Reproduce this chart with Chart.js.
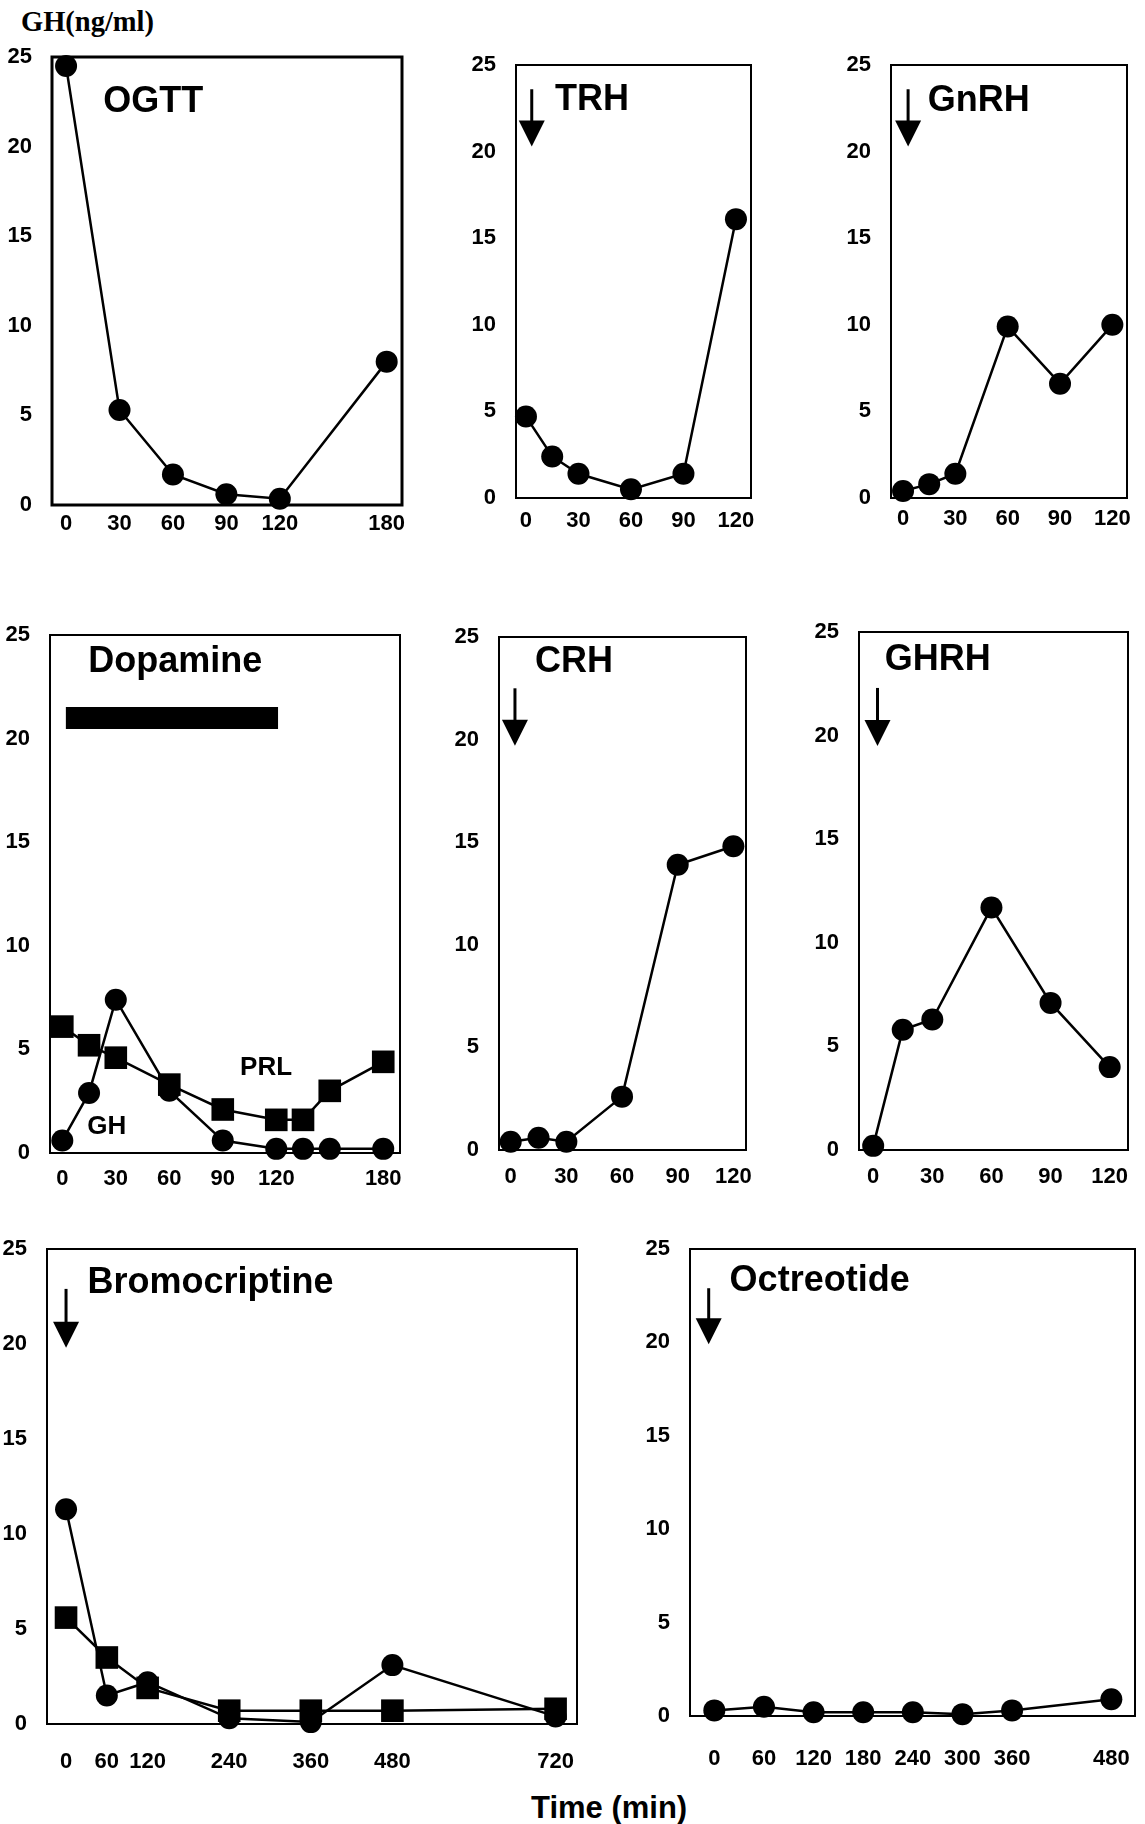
<!DOCTYPE html>
<html>
<head>
<meta charset="utf-8">
<script src="https://cdn.jsdelivr.net/npm/chart.js@4.4.0/dist/chart.umd.min.js"></script>
<style>
  body { margin: 0; background: #fff; width: 1145px; height: 1824px; position: relative; overflow: hidden; }
  canvas { position: absolute; }
  .txt { position: absolute; white-space: nowrap; color: #000; line-height: 1; }
</style>
</head>
<body>
<div class="txt" style="left:21px;top:6px;font:bold 28.5px 'Liberation Serif',serif;">GH(ng/ml)</div>
<div class="txt" style="left:531px;top:1790px;font:bold 31px 'Liberation Sans',Arial,sans-serif;">Time (min)</div>
<script>
// values, GH in ng/ml, time in min
const ogttTime = [0, 30, 60, 90, 120, 180];
const ogttGH = [24.5, 5.3, 1.7, 0.6, 0.35, 8.0];

const trhTime = [0, 15, 30, 60, 90, 120];
const trhGH = [4.7, 2.4, 1.4, 0.5, 1.4, 16.1];

const gnrhTime = [0, 15, 30, 60, 90, 120];
const gnrhGH = [0.4, 0.8, 1.4, 9.9, 6.6, 10.0];

const dopaTime = [0, 15, 30, 60, 90, 120, 135, 150, 180];
const dopaGH = [0.6, 2.9, 7.4, 3.0, 0.6, 0.2, 0.2, 0.2, 0.2];
const dopaPRL = [6.1, 5.2, 4.6, 3.3, 2.1, 1.6, 1.6, 3.0, 4.4];
const dopaInfusion = [2, 121];
const dopaInfusionLevel = 21;

const crhTime = [0, 15, 30, 60, 90, 120];
const crhGH = [0.4, 0.6, 0.4, 2.6, 13.9, 14.8];

const ghrhTime = [0, 15, 30, 60, 90, 120];
const ghrhGH = [0.2, 5.8, 6.3, 11.7, 7.1, 4.0];

const bromoTime = [0, 60, 120, 240, 360, 480, 720];
const bromoGH = [11.3, 1.5, 2.2, 0.3, 0.1, 3.1, 0.4];
const bromoPRL = [5.6, 3.5, 1.9, 0.7, 0.7, 0.7, 0.8];

const octTime = [0, 60, 120, 180, 240, 300, 360, 480];
const octGH = [0.3, 0.5, 0.2, 0.2, 0.2, 0.1, 0.3, 0.9];

const yTicks = [0, 5, 10, 15, 20, 25];
const ticks180 = [0, 30, 60, 90, 120, 180];
const ticks120 = [0, 30, 60, 90, 120];
const bromoTicks = [0, 60, 120, 240, 360, 480, 720];
const octTicks = [0, 60, 120, 180, 240, 300, 360, 480];

const SANS = "'Liberation Sans', Arial, sans-serif";
const TITLE_FONT = "bold 36px " + SANS;
const SMALL_FONT = "bold 26px " + SANS;

const pts = (xs, ys) => xs.map((t, i) => ({ x: t, y: ys[i] }));

const ghLine = (xs, ys) => ({
  data: pts(xs, ys),
  borderColor: "#000",
  borderWidth: 2.5,
  pointStyle: "circle",
  pointRadius: 11,
  pointBackgroundColor: "#000",
  pointBorderWidth: 0,
  clip: false,
});

const prlLine = (xs, ys) => ({
  data: pts(xs, ys),
  borderColor: "#000",
  borderWidth: 2.5,
  pointStyle: "rect",
  pointRadius: 16,
  pointBackgroundColor: "#000",
  pointBorderWidth: 0,
  clip: false,
});

// box border, arrow and in-plot labels
const decor = {
  id: "decor",
  beforeDatasetsDraw(chart, args, opts) {
    const { ctx, chartArea: a } = chart;
    ctx.save();
    ctx.lineWidth = opts.border || 2;
    ctx.strokeStyle = "#000";
    ctx.strokeRect(a.left, a.top, a.right - a.left, a.bottom - a.top);
    ctx.restore();
  },
  afterDatasetsDraw(chart, args, opts) {
    const { ctx, scales: { x, y } } = chart;
    ctx.save();
    ctx.fillStyle = "#000";
    ctx.strokeStyle = "#000";
    ctx.textBaseline = "middle";
    ctx.textAlign = "left";
    (opts.texts || []).forEach((t) => {
      ctx.font = t.font;
      ctx.fillText(t.text, x.getPixelForValue(t.x), y.getPixelForValue(t.y));
    });
    if (opts.arrow) {
      const [t, top, tip] = opts.arrow;
      const px = x.getPixelForValue(t);
      const y0 = y.getPixelForValue(top);
      const y1 = y.getPixelForValue(tip);
      ctx.lineWidth = 3;
      ctx.beginPath();
      ctx.moveTo(px, y0);
      ctx.lineTo(px, y1 - 20);
      ctx.stroke();
      ctx.beginPath();
      ctx.moveTo(px - 13, y1 - 26);
      ctx.lineTo(px + 13, y1 - 26);
      ctx.lineTo(px, y1);
      ctx.closePath();
      ctx.fill();
    }
    ctx.restore();
  },
};

const makePanel = (p) => {
  const PAD_T = 36, PAD_R = 32, Y_W = 60, X_H = 62;
  const cv = document.createElement("canvas");
  const w = p.box.r - p.box.l + Y_W + PAD_R;
  const h = p.box.b - p.box.t + PAD_T + X_H;
  cv.width = w;
  cv.height = h;
  cv.style.left = p.box.l - Y_W + "px";
  cv.style.top = p.box.t - PAD_T + "px";
  cv.style.width = w + "px";
  cv.style.height = h + "px";
  document.body.appendChild(cv);

  const tickFont = { family: SANS, size: 22, weight: "bold" };

  new Chart(cv.getContext("2d"), {
    type: "line",
    data: { datasets: p.datasets },
    options: {
      responsive: false,
      animation: false,
      devicePixelRatio: 1,
      layout: { padding: { top: PAD_T, right: PAD_R, left: 0, bottom: 0 } },
      plugins: {
        legend: { display: false },
        tooltip: { enabled: false },
        decor: { border: p.border, texts: p.texts, arrow: p.arrow },
      },
      scales: {
        x: {
          type: "linear",
          min: p.xRange[0],
          max: p.xRange[1],
          afterBuildTicks: (s) => { s.ticks = p.xTicks.map((v) => ({ value: v })); },
          afterFit: (s) => { s.height = X_H; },
          ticks: { padding: p.xPad, color: "#000", font: tickFont, maxRotation: 0, autoSkip: false },
          grid: { display: false, drawTicks: false },
          border: { display: false },
        },
        y: {
          min: 0,
          max: 25,
          afterBuildTicks: (s) => { s.ticks = yTicks.map((v) => ({ value: v })); },
          afterFit: (s) => { s.width = Y_W; },
          ticks: { padding: 20, color: "#000", font: tickFont },
          grid: { display: false, drawTicks: false },
          border: { display: false },
        },
      },
    },
    plugins: [decor],
  });
};

const panels = [
  {
    box: { l: 52, t: 57, r: 402, b: 505 }, xRange: [-7.9, 188.6], xTicks: ticks180, xPad: 6, border: 3,
    datasets: [ghLine(ogttTime, ogttGH)],
    texts: [{ text: "OGTT", x: 20.9, y: 22.5, font: TITLE_FONT }],
  },
  {
    box: { l: 516, t: 65, r: 751, b: 498 }, xRange: [-5.7, 128.6], xTicks: ticks120, xPad: 10,
    datasets: [ghLine(trhTime, trhGH)],
    texts: [{ text: "TRH", x: 16.6, y: 23.0, font: TITLE_FONT }],
    arrow: [3.3, 23.6, 20.3],
  },
  {
    box: { l: 891, t: 65, r: 1127, b: 498 }, xRange: [-6.9, 128.4], xTicks: ticks120, xPad: 8,
    datasets: [ghLine(gnrhTime, gnrhGH)],
    texts: [{ text: "GnRH", x: 14.2, y: 22.9, font: TITLE_FONT }],
    arrow: [2.9, 23.6, 20.3],
  },
  {
    box: { l: 50, t: 635, r: 400, b: 1153 }, xRange: [-6.9, 189.4], xTicks: ticks180, xPad: 13,
    datasets: [
      {
        data: dopaInfusion.map((t) => ({ x: t, y: dopaInfusionLevel })),
        borderColor: "#000", borderWidth: 22, borderCapStyle: "butt", pointRadius: 0,
      },
      prlLine(dopaTime, dopaPRL),
      ghLine(dopaTime, dopaGH),
    ],
    texts: [
      { text: "Dopamine", x: 14.6, y: 23.7, font: TITLE_FONT },
      { text: "PRL", x: 99.7, y: 4.1, font: SMALL_FONT },
      { text: "GH", x: 14, y: 1.27, font: SMALL_FONT },
    ],
  },
  {
    box: { l: 499, t: 637, r: 746, b: 1150 }, xRange: [-6.3, 126.8], xTicks: ticks120, xPad: 14,
    datasets: [ghLine(crhTime, crhGH)],
    texts: [{ text: "CRH", x: 13.1, y: 23.8, font: TITLE_FONT }],
    arrow: [2.3, 22.5, 19.7],
  },
  {
    box: { l: 859, t: 632, r: 1128, b: 1150 }, xRange: [-7.2, 129.3], xTicks: ticks120, xPad: 14,
    datasets: [ghLine(ghrhTime, ghrhGH)],
    texts: [{ text: "GHRH", x: 5.9, y: 23.65, font: TITLE_FONT }],
    arrow: [2.2, 22.3, 19.5],
  },
  {
    box: { l: 47, t: 1249, r: 577, b: 1724 }, xRange: [-28, 751.5], xTicks: bromoTicks, xPad: 25,
    datasets: [prlLine(bromoTime, bromoPRL), ghLine(bromoTime, bromoGH)],
    texts: [{ text: "Bromocriptine", x: 31.6, y: 23.2, font: TITLE_FONT }],
    arrow: [0, 22.9, 19.8],
  },
  {
    box: { l: 690, t: 1249, r: 1135, b: 1716 }, xRange: [-29.4, 508.6], xTicks: octTicks, xPad: 30,
    datasets: [ghLine(octTime, octGH)],
    texts: [{ text: "Octreotide", x: 18.5, y: 23.3, font: TITLE_FONT }],
    arrow: [-6.8, 22.9, 19.9],
  },
];

panels.forEach(makePanel);
</script>
</body>
</html>
